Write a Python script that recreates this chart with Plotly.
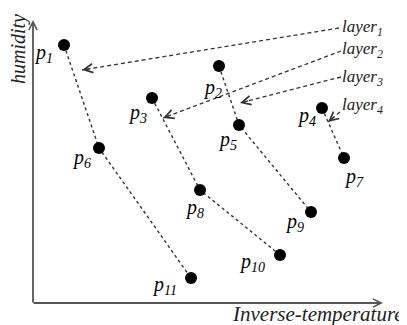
import plotly.graph_objects as go

# points (inverse-temperature, humidity) in diagram units
point_names = ["p1", "p2", "p3", "p4", "p5", "p6", "p7", "p8", "p9", "p10", "p11"]
point_x = [31, 186, 119, 289, 206, 66, 311, 167, 278, 247, 158]
point_y = [258, 237, 205, 195, 178, 155, 145, 113, 91, 48, 25]

# layers: chains of points
layer_names = ["layer1", "layer2", "layer3", "layer4"]
layer_members = [
    ["p1", "p6", "p11"],
    ["p3", "p8", "p10"],
    ["p2", "p5", "p9"],
    ["p4", "p7"],
]
# where each layer label sits and where its arrow points
label_x = [307, 307, 307, 307]
label_y = [275, 253, 225, 197]
arrow_start_x = [306, 308, 308, 307]
arrow_start_y = [275, 252, 226, 191]
arrow_tip_x = [49, 130, 207, 295]
arrow_tip_y = [233, 185, 200, 181]

# label offsets for point names (pixels)
label_shift = {
    "p1": (-21, -8), "p2": (-7, -22), "p3": (-15, -15), "p4": (-16, -8),
    "p5": (-12, -15), "p6": (-18, -10), "p7": (10, -19), "p8": (-6, -18),
    "p9": (-17, -10), "p10": (-28, -7), "p11": (-27, -7),
}

FONT = "Liberation Serif"
INK = "#222222"

pos = {n: (x, y) for n, x, y in zip(point_names, point_x, point_y)}

fig = go.Figure()

# dotted layer lines
for members in layer_members:
    fig.add_trace(go.Scatter(
        x=[pos[m][0] for m in members], y=[pos[m][1] for m in members],
        mode="lines", line=dict(color="#333333", width=1.4, dash="dot"),
        hoverinfo="skip", showlegend=False,
    ))

# dashed pointer lines from layer labels
for sx, sy, tx, ty in zip(arrow_start_x, arrow_start_y, arrow_tip_x, arrow_tip_y):
    fig.add_trace(go.Scatter(
        x=[sx, tx], y=[sy, ty], mode="lines",
        line=dict(color="#333333", width=1.3, dash="4px,3px"),
        hoverinfo="skip", showlegend=False,
    ))
    dx, dy = sx - tx, sy - ty
    d = (dx ** 2 + dy ** 2) ** 0.5
    # short solid stub just to carry the arrowhead
    fig.add_annotation(
        x=tx, y=ty, ax=tx + dx / d * 9, ay=ty + dy / d * 9,
        xref="x", yref="y", axref="x", ayref="y", text="",
        font=dict(size=1), borderpad=0,
        showarrow=True, arrowhead=5, arrowsize=1.6, arrowwidth=1.1,
        arrowcolor="#333333",
    )

# points
fig.add_trace(go.Scatter(
    x=point_x, y=point_y, mode="markers",
    marker=dict(color="black", size=12), cliponaxis=False,
    hoverinfo="skip", showlegend=False,
))

# point labels
for n, x, y in zip(point_names, point_x, point_y):
    sx, sy = label_shift[n]
    fig.add_annotation(
        x=x, y=y, text=f"<i>p<sub>{n[1:]}</sub></i>", showarrow=False,
        xshift=sx, yshift=sy, font=dict(family=FONT, size=20, color="black"),
    )

# layer labels
for name, x, y in zip(layer_names, label_x, label_y):
    fig.add_annotation(
        x=x, y=y, text=f"<i>layer<sub>{name[5:]}</sub></i>", showarrow=False,
        xanchor="left", font=dict(family=FONT, size=17, color=INK),
    )

# axes drawn as arrows
fig.add_annotation(x=350, y=0, ax=0, ay=0, xref="x", yref="y", axref="x", ayref="y",
                   text="", font=dict(size=1), borderpad=0,
                   showarrow=True, arrowhead=5, arrowsize=0.9,
                   arrowwidth=1.8, arrowcolor="#555555")
fig.add_annotation(x=0, y=283, ax=0, ay=0, xref="x", yref="y", axref="x", ayref="y",
                   text="", font=dict(size=1), borderpad=0,
                   showarrow=True, arrowhead=5, arrowsize=0.9,
                   arrowwidth=1.8, arrowcolor="#555555")

fig.add_annotation(x=-15, y=254, text="<i>humidity</i>", textangle=-90, showarrow=False,
                   font=dict(family=FONT, size=20, color=INK))
fig.add_annotation(x=285, y=-11, text="<i>Inverse-temperature</i>", showarrow=False,
                   font=dict(family=FONT, size=21, color=INK))

fig.update_layout(
    width=407, height=325, margin=dict(l=0, r=0, t=0, b=0),
    plot_bgcolor="white", paper_bgcolor="white", showlegend=False,
)
# page body adds an 8px offset; ranges compensate for it
fig.update_xaxes(range=[-25, 382], visible=False)
fig.update_yaxes(range=[-30, 295], visible=False)

fig.write_html("out.html")
